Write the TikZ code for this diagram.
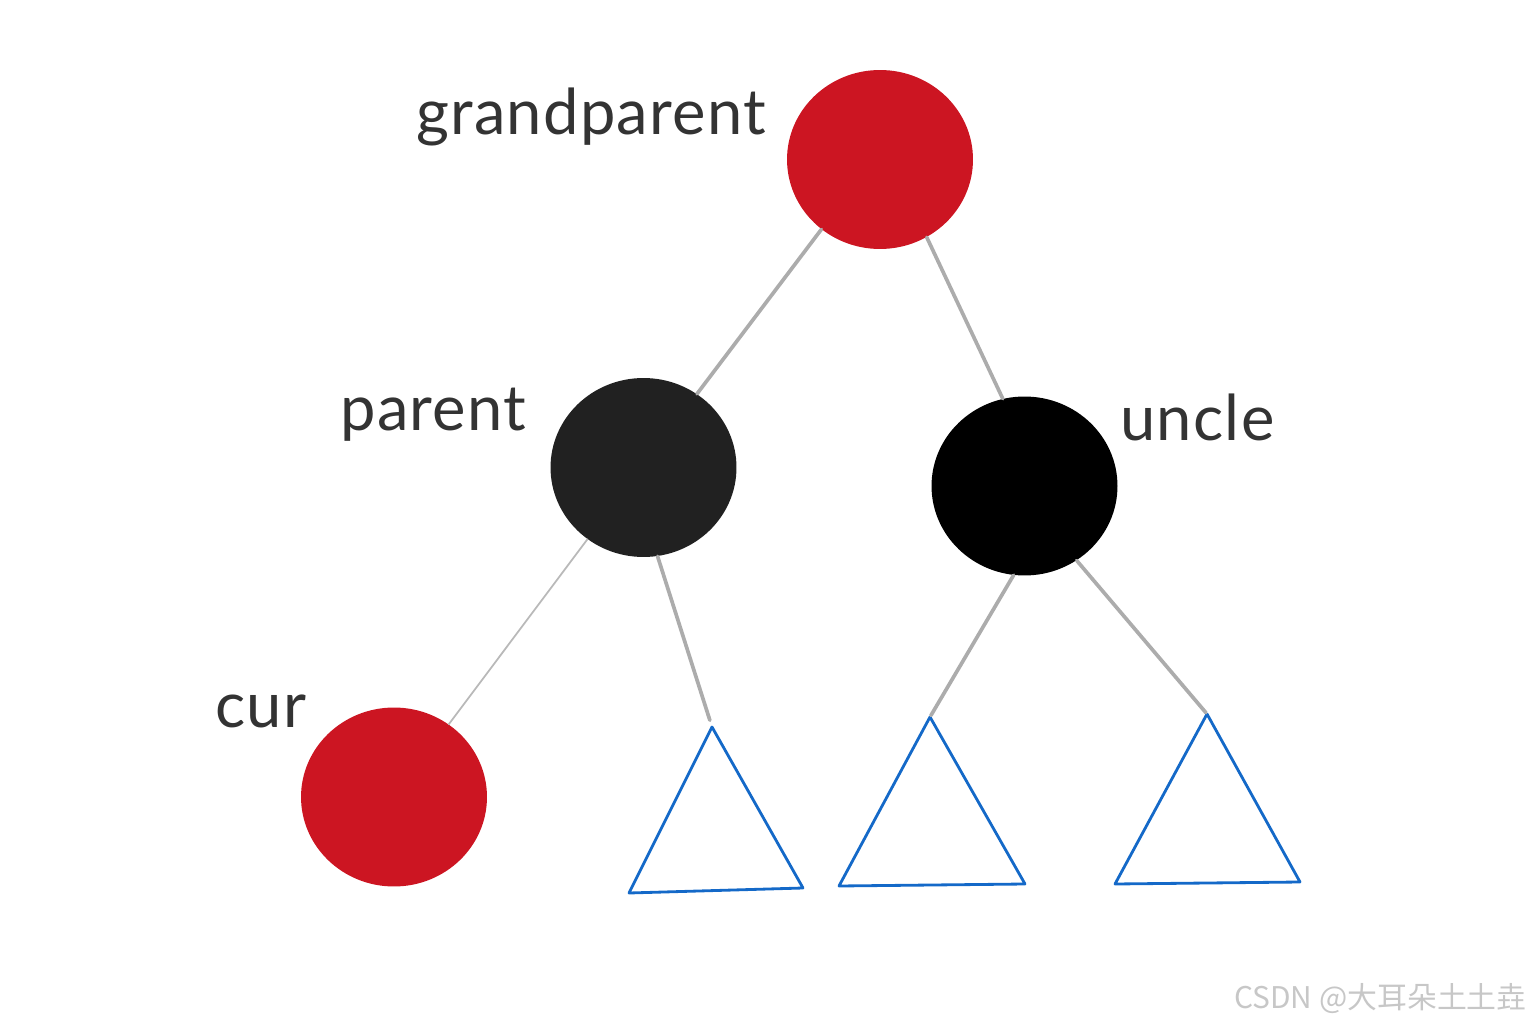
\documentclass[tikz,border=0pt]{standalone}
\usepackage{fontspec}
\setmainfont{Lato}
\newfontfamily\labelfont[LetterSpace=2]{Lato}
\newfontfamily\cjkfont{Noto Sans CJK SC}
\usetikzlibrary{shapes.geometric}
\definecolor{rbred}{HTML}{CC1522}
\definecolor{rbdark}{HTML}{212121}
\definecolor{subblue}{HTML}{1469C8}
\definecolor{labelgray}{HTML}{333333}
\begin{document}
\begin{tikzpicture}[
        x=0.02cm, y=-0.02cm,
        rbnode/.style={ellipse, draw=none, inner sep=0pt, minimum width=3.72cm, minimum height=3.58cm},
        red node/.style={rbnode, fill=rbred},
        black node/.style={rbnode, fill=#1},
        name label/.style={anchor=base west, inner sep=0pt, text=labelgray, font=\labelfont\fontsize{36}{40}\selectfont},
        edge line/.style={draw=gray!65, line width=2.1pt, line cap=round},
        subtree/.style={draw=subblue, line width=1.6pt, line join=round},
    ]
    \useasboundingbox (0,0) rectangle (1530,1026);

    % nodes
    \node[red node](grandparent) at (880,159.5){};
    \node[black node=rbdark](parent) at (643.5,467.5){};
    \node[black node=black](uncle) at (1024.5,486){};
    \node[red node](cur) at (394,797){};

    % labels
    \node[name label](gplabel) at (416,135){grandparent};
    \node[name label](plabel) at (340,431){parent};
    \node[name label](ulabel) at (1120,441){uncle};
    \node[name label](clabel) at (215,727){cur};

    % empty subtrees
    \coordinate (t1) at (712,727);
    \coordinate (t2) at (930,717);
    \coordinate (t3) at (1207,714);
    \draw[subtree] (t1) -- (629,893) -- (803,888) -- cycle;
    \draw[subtree] (t2) -- (839,886) -- (1025,884) -- cycle;
    \draw[subtree] (t3) -- (1115,884) -- (1300,882) -- cycle;

    % edges
    \draw[edge line] (grandparent.-130) -- (parent.54);
    \draw[edge line] (grandparent.-59) -- (uncle.104);
    \draw[edge line, line width=1pt, draw=gray!55] (parent.-128) -- (cur.53);
    \draw[edge line, shorten >=4pt] (parent.-81) -- (t1);
    \draw[edge line, shorten >=1pt] (uncle.-97) -- (t2);
    \draw[edge line, shorten >=1pt] (uncle.-55) -- (t3);

    % watermark
    \node[anchor=base east, inner sep=0pt, text=black!22, font=\cjkfont\fontsize{17}{20}\selectfont](mark) at (1527,1008){CSDN @大耳朵土土垚};
\end{tikzpicture}
\end{document}
